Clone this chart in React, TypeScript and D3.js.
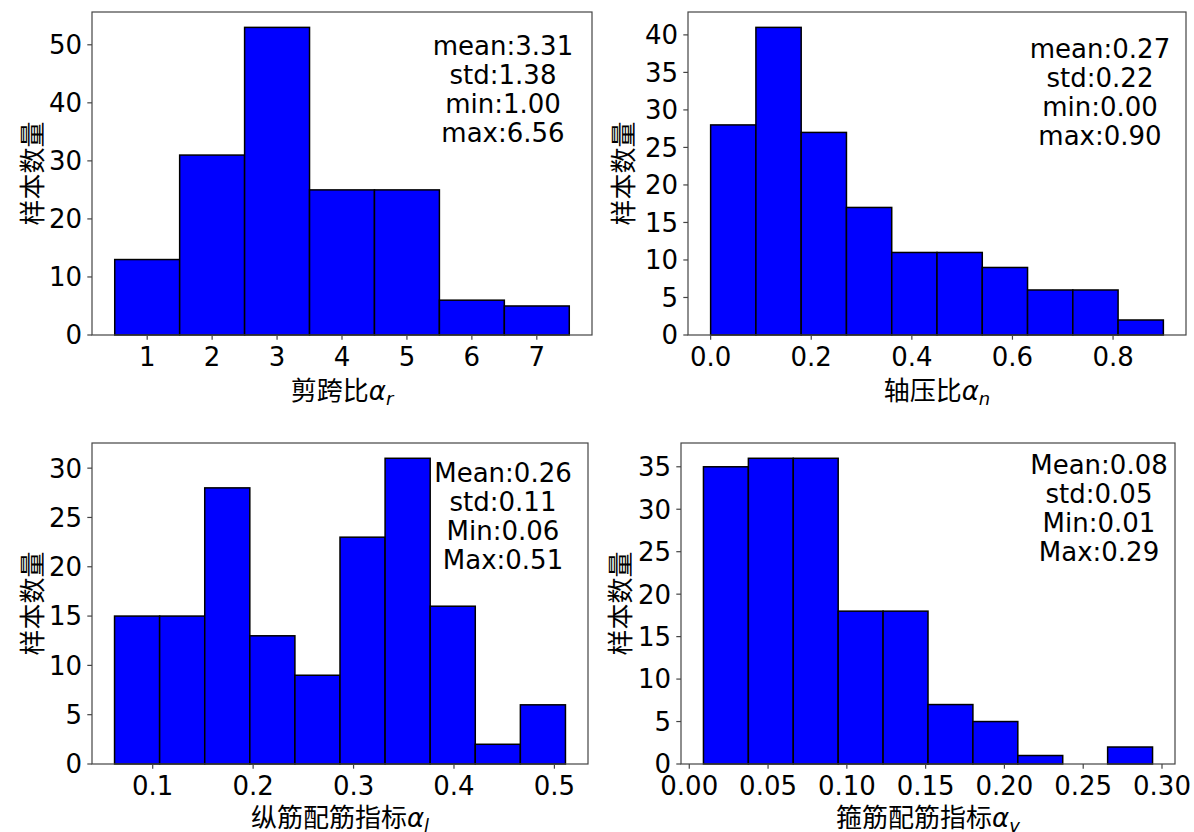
import React from 'react';
import * as d3 from 'd3';

const W = 1194;
const H = 832;

// Panel 1: shear span ratio
const shearCounts = [13, 31, 53, 25, 25, 6, 5];
const shearRange = [0.5, 7.5];
const shearXTicks = [1, 2, 3, 4, 5, 6, 7];
const shearYTicks = [0, 10, 20, 30, 40, 50];
const shearStats = ['mean:3.31', 'std:1.38', 'min:1.00', 'max:6.56'];

// Panel 2: axial compression ratio
const axialCounts = [28, 41, 27, 17, 11, 11, 9, 6, 6, 2];
const axialRange = [0, 0.9];
const axialXTicks = [0, 0.2, 0.4, 0.6, 0.8];
const axialYTicks = [0, 5, 10, 15, 20, 25, 30, 35, 40];
const axialStats = ['mean:0.27', 'std:0.22', 'min:0.00', 'max:0.90'];

// Panel 3: longitudinal reinforcement index
const longCounts = [15, 15, 28, 13, 9, 23, 31, 16, 2, 6];
const longRange = [0.062, 0.511];
const longXTicks = [0.1, 0.2, 0.3, 0.4, 0.5];
const longYTicks = [0, 5, 10, 15, 20, 25, 30];
const longStats = ['Mean:0.26', 'std:0.11', 'Min:0.06', 'Max:0.51'];

// Panel 4: stirrup reinforcement index
const stirCounts = [35, 36, 36, 18, 18, 7, 5, 1, 0, 2];
const stirRange = [0.009, 0.294];
const stirXTicks = [0, 0.05, 0.1, 0.15, 0.2, 0.25, 0.3];
const stirYTicks = [0, 5, 10, 15, 20, 25, 30, 35];
const stirStats = ['Mean:0.08', 'std:0.05', 'Min:0.01', 'Max:0.29'];

const yLabelText = '样本数量';

const FONT = 'DejaVu Sans';
const CJK = '"Noto Sans CJK SC"';
const FS = 26;

type PanelProps = {
  frame: { left: number; right: number; top: number; bottom: number };
  counts: number[];
  range: number[];
  xTicks: number[];
  xFmt: (v: number) => string;
  yTicks: number[];
  stats: string[];
  statsX: number;
  statsY: number;
  cjk: string;
  sub: string;
  yLabelX: number;
  xLabelY: number;
};

function Panel(p: PanelProps) {
  const { frame, counts, range, xTicks, xFmt, yTicks, stats } = p;
  const [a, b] = range;
  const span = b - a;
  const x = d3.scaleLinear().domain([a - 0.05 * span, b + 0.05 * span]).range([frame.left, frame.right]);
  const maxC = d3.max(counts) as number;
  const y = d3.scaleLinear().domain([0, maxC * 1.05]).range([frame.bottom, frame.top]);
  const n = counts.length;
  const bw = span / n;
  const tickLen = 4.7;
  const cx = (frame.left + frame.right) / 2;
  const cy = (frame.top + frame.bottom) / 2;
  return (
    <g>
      {counts.map((c, i) => {
        if (c === 0) return null;
        const x0 = x(a + i * bw);
        const x1 = x(a + (i + 1) * bw);
        return (
          <rect key={i} x={x0} y={y(c)} width={x1 - x0} height={y(0) - y(c)}
            fill="#0000ff" stroke="#000" strokeWidth={1.5} />
        );
      })}
      <rect x={frame.left} y={frame.top} width={frame.right - frame.left} height={frame.bottom - frame.top}
        fill="none" stroke="#444" strokeWidth={1.2} />
      {xTicks.map((t, i) => (
        <g key={'xt' + i}>
          <line x1={x(t)} x2={x(t)} y1={frame.bottom} y2={frame.bottom + tickLen} stroke="#444" strokeWidth={1.2} />
          <text x={x(t)} y={frame.bottom + 31} textAnchor="middle" fontFamily={FONT} fontSize={FS} fill="#000">{xFmt(t)}</text>
        </g>
      ))}
      {yTicks.map((t, i) => (
        <g key={'yt' + i}>
          <line x1={frame.left - tickLen} x2={frame.left} y1={y(t)} y2={y(t)} stroke="#444" strokeWidth={1.2} />
          <text x={frame.left - 10} y={y(t) + 9.4} textAnchor="end" fontFamily={FONT} fontSize={FS} fill="#000">{String(t)}</text>
        </g>
      ))}
      {stats.map((s, i) => (
        <text key={'st' + i} x={p.statsX} y={p.statsY + i * 29} textAnchor="middle" fontFamily={FONT} fontSize={FS} fill="#000">{s}</text>
      ))}
      <text x={cx} y={p.xLabelY} textAnchor="middle" fontSize={FS} fill="#000">
        <tspan fontFamily={CJK}>{p.cjk}</tspan>
        <tspan fontFamily={FONT} fontStyle="italic">α</tspan>
        <tspan fontFamily={FONT} fontStyle="italic" fontSize={18} dy={5}>{p.sub}</tspan>
      </text>
      <text transform={`translate(${p.yLabelX},${cy}) rotate(-90)`} textAnchor="middle" dominantBaseline="central"
        fontFamily={CJK} fontSize={FS} fill="#000">{yLabelText}</text>
    </g>
  );
}

const fmt1 = (v: number) => d3.format('.1f')(v);
const fmt0 = (v: number) => d3.format('d')(v);
const fmt2 = (v: number) => d3.format('.2f')(v);

export default function App() {
  return (
    <svg width={W} height={H} style={{ position: 'absolute', left: 0, top: 0, background: '#fff' }}>
      <rect x={0} y={0} width={W} height={H} fill="#fff" />
      <Panel frame={{ left: 92, right: 592, top: 12, bottom: 335 }} counts={shearCounts} range={shearRange}
        xTicks={shearXTicks} xFmt={fmt0} yTicks={shearYTicks} stats={shearStats} statsX={503} statsY={55}
        cjk="剪跨比" sub="r" yLabelX={30} xLabelY={400} />
      <Panel frame={{ left: 688, right: 1186, top: 12, bottom: 335 }} counts={axialCounts} range={axialRange}
        xTicks={axialXTicks} xFmt={fmt1} yTicks={axialYTicks} stats={axialStats} statsX={1100} statsY={58}
        cjk="轴压比" sub="n" yLabelX={621} xLabelY={400} />
      <Panel frame={{ left: 92, right: 588, top: 443, bottom: 764 }} counts={longCounts} range={longRange}
        xTicks={longXTicks} xFmt={fmt1} yTicks={longYTicks} stats={longStats} statsX={503} statsY={482}
        cjk="纵筋配筋指标" sub="l" yLabelX={30} xLabelY={827} />
      <Panel frame={{ left: 681, right: 1175, top: 443, bottom: 764 }} counts={stirCounts} range={stirRange}
        xTicks={stirXTicks} xFmt={fmt2} yTicks={stirYTicks} stats={stirStats} statsX={1099} statsY={474}
        cjk="箍筋配筋指标" sub="v" yLabelX={618} xLabelY={827} />
    </svg>
  );
}
